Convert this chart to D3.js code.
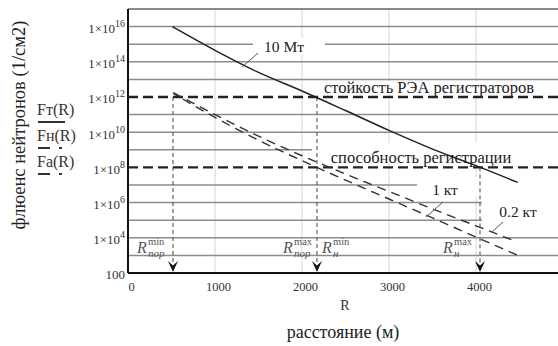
<!DOCTYPE html>
<html><head><meta charset="utf-8">
<script src="https://cdn.jsdelivr.net/npm/d3@7"></script>
<style>
body{margin:0;background:#fff}
svg{display:block}
</style>
</head><body>
<svg id="c" width="558" height="346"></svg>
<script>
// ---------- data ----------
const xTicks = [0, 1000, 2000, 3000, 4000];
const yTickVals = [1e2, 1e4, 1e6, 1e8, 1e10, 1e12, 1e14, 1e16];
const yTickSup = ["", "4", "6", "8", "10", "12", "14", "16"];
const gridDecades = [1e3,1e4,1e5,1e6,1e7,1e9,1e10,1e11,1e13,1e14,1e15,1e16];

const dist10Mt = [510, 1000, 1500, 2000, 2500, 3000, 3500, 4000, 4480];
const flu10Mt  = [1e16, 4.5e14, 2.5e13, 2.2e12, 1.7e11, 1.26e10, 1.1e9, 1.26e8, 1.4e7];

const dist02kt = [520, 1000, 1500, 2000, 2500, 3000, 3500, 4000, 4470];
const flu02kt  = [1.8e12, 1e11, 6e9, 4.6e8, 4.2e7, 4.3e6, 4.4e5, 4.8e4, 5.9e3];

const dist1kt  = [520, 1000, 1500, 2000, 2500, 3000, 3500, 4000, 4470];
const flu1kt   = [1.6e12, 6.9e10, 3.5e9, 2.4e8, 1.9e7, 1.6e6, 1.35e5, 1.1e4, 1.07e3];

const thresholdVals = [1e12, 1e8];
const thresholdNames = ["стойкость РЭА регистраторов", "способность регистрации"];

const markerR    = [517, 2172, 4046];
const markerFrom = [1e12, 1e12, 1e8];

// ---------- scales ----------
const svg = d3.select("#c").attr("font-family", "Liberation Serif");
const x = d3.scaleLinear().domain([0, 5000]).range([128, 563]);
const y = d3.scaleLog().domain([1e2, 1e17]).range([273, 9]);

// vertical gridlines
svg.append("g").selectAll("line").data(xTicks.slice(1)).join("line")
  .attr("x1", d => x(d)).attr("x2", d => x(d))
  .attr("y1", y(1e17)).attr("y2", y(1e2))
  .attr("stroke", "#d6d6d6").attr("stroke-width", 1);

// horizontal gridlines
svg.append("g").selectAll("line").data(gridDecades).join("line")
  .attr("x1", x(0)).attr("x2", 558)
  .attr("y1", d => y(d)).attr("y2", d => y(d))
  .attr("stroke", "#8c8c8c").attr("stroke-width", 1.5);

// top border
svg.append("line").attr("x1", x(0)).attr("x2", 558)
  .attr("y1", y(1e17)).attr("y2", y(1e17))
  .attr("stroke", "#666").attr("stroke-width", 1.5);

// white label boxes (break gridlines like the original)
const boxes = [
  [253, 38, 72, 17],   // 10 Мт
  [320, 81, 222, 14],  // стойкость
  [312, 143, 246, 21], // способность
  [417, 177, 65, 20],  // 1 кт
  [482, 179, 76, 48]   // 0.2 кт
];
svg.append("g").selectAll("rect").data(boxes).join("rect")
  .attr("x", d => d[0]).attr("y", d => d[1])
  .attr("width", d => d[2]).attr("height", d => d[3])
  .attr("fill", "#fff");

// threshold dashed lines
svg.append("g").selectAll("line").data(thresholdVals).join("line")
  .attr("x1", x(0)).attr("x2", 558)
  .attr("y1", d => y(d)).attr("y2", d => y(d))
  .attr("stroke", "#222").attr("stroke-width", 2.4)
  .attr("stroke-dasharray", "10,5");

// vertical marker dashed lines + arrows
const mk = svg.append("g");
markerR.forEach((r, i) => {
  const xx = x(r);
  mk.append("line").attr("x1", xx).attr("x2", xx)
    .attr("y1", y(markerFrom[i])).attr("y2", 264)
    .attr("stroke", "#444").attr("stroke-width", 1)
    .attr("stroke-dasharray", "4,3");
  mk.append("path")
    .attr("d", `M${xx-5},261 L${xx},265.5 L${xx+5},261 L${xx},272 Z`)
    .attr("fill", "#111");
});

// curves
const line = d3.line().x(d => x(d[0])).y(d => y(d[1])).curve(d3.curveMonotoneX);
svg.append("path").datum(d3.zip(dist10Mt, flu10Mt))
  .attr("d", line).attr("fill", "none")
  .attr("stroke", "#222").attr("stroke-width", 1.5);
svg.append("path").datum(d3.zip(dist02kt, flu02kt))
  .attr("d", line).attr("fill", "none")
  .attr("stroke", "#333").attr("stroke-width", 1.4).attr("stroke-dasharray", "9,6");
svg.append("path").datum(d3.zip(dist1kt, flu1kt))
  .attr("d", line).attr("fill", "none")
  .attr("stroke", "#333").attr("stroke-width", 1.4).attr("stroke-dasharray", "9,6")
  .attr("stroke-dashoffset", 4);

// leader lines
const leaders = [[258, 53, 242, 67], [443, 202, 426, 217], [503, 222, 492, 232]];
svg.append("g").selectAll("line").data(leaders).join("line")
  .attr("x1", d => d[0]).attr("y1", d => d[1]).attr("x2", d => d[2]).attr("y2", d => d[3])
  .attr("stroke", "#555").attr("stroke-width", 1);

// axes
const xAxis = svg.append("g").attr("transform", `translate(0,${y(1e2)})`)
  .call(d3.axisBottom(x).tickValues(xTicks).tickSize(0).tickPadding(9).tickFormat(d3.format("d")));
xAxis.select(".domain").remove();
xAxis.selectAll("text").attr("font-size", 12.5).attr("fill", "#333").attr("dx", 3);

const yAxis = svg.append("g").attr("transform", `translate(${x(0)},0)`)
  .call(d3.axisLeft(y).tickValues(yTickVals).tickSize(0).tickPadding(3).tickFormat(() => ""));
yAxis.select(".domain").remove();
yAxis.selectAll("text").each(function(d, i) {
  const t = d3.select(this).attr("font-size", 13).attr("fill", "#333").attr("dy", "0.45em");
  if (yTickSup[i] === "") { t.text("100"); }
  else {
    t.append("tspan").text("1×10");
    t.append("tspan").attr("font-size", 10).attr("dy", -6).text(yTickSup[i]);
  }
});

// axis lines
svg.append("line").attr("x1", x(0)).attr("x2", x(0)).attr("y1", y(1e17)).attr("y2", y(1e2))
  .attr("stroke", "#111").attr("stroke-width", 2);
svg.append("line").attr("x1", x(0)).attr("x2", 558).attr("y1", y(1e2)).attr("y2", y(1e2))
  .attr("stroke", "#111").attr("stroke-width", 2);

// annotation texts
const ann = svg.append("g").attr("fill", "#222");
ann.append("text").attr("x", 284).attr("y", 52).attr("font-size", 15.5).attr("text-anchor", "middle").text("10 Мт");
ann.append("text").attr("x", 429).attr("y", 93).attr("font-size", 16.5).attr("text-anchor", "middle").text(thresholdNames[0]);
ann.append("text").attr("x", 421).attr("y", 163).attr("font-size", 16.5).attr("text-anchor", "middle").text(thresholdNames[1]);
ann.append("text").attr("x", 445).attr("y", 195).attr("font-size", 15.5).attr("text-anchor", "middle").text("1 кт");
ann.append("text").attr("x", 518).attr("y", 217).attr("font-size", 15.5).attr("text-anchor", "middle").text("0.2 кт");

// R labels
const rl = svg.append("g").attr("fill", "#555").attr("font-style", "italic");
const rLabels = [[137, "min", "пор"], [283, "max", "пор"], [322, "min", "н"], [443, "max", "н"]];
rLabels.forEach(([lx, sup, sub]) => {
  rl.append("text").attr("x", lx).attr("y", 253).attr("font-size", 16).text("R");
  rl.append("text").attr("x", lx + 11).attr("y", 245).attr("font-size", 10.5)
    .attr("font-style", "normal").text(sup);
  rl.append("text").attr("x", lx + 11).attr("y", 257).attr("font-size", 11).text(sub);
});

// axis titles
svg.append("text").attr("x", 345).attr("y", 310).attr("text-anchor", "middle")
  .attr("font-size", 14).attr("fill", "#333").text("R");
svg.append("text").attr("x", 343).attr("y", 338).attr("text-anchor", "middle")
  .attr("font-size", 18).attr("fill", "#222").text("расстояние (м)");
svg.append("text").attr("transform", "translate(25,125) rotate(-90)").attr("text-anchor", "middle")
  .attr("font-size", 18.5).attr("fill", "#222").text("флюенс нейтронов (1/см2)");

// legend
const legNames = ["Fт(R)", "Fн(R)", "Fa(R)"];
const legDash = [null, "12,9,3", "12,9,3"];
const lg = svg.append("g").attr("font-size", 16).attr("fill", "#333");
legNames.forEach((n, i) => {
  const by = 115 + i * 26;
  lg.append("text").attr("x", 37).attr("y", by).text(n);
  const ln = lg.append("line").attr("x1", 38).attr("x2", i === 0 ? 65 : 63)
    .attr("y1", by + 7).attr("y2", by + 7).attr("stroke", "#333").attr("stroke-width", 2);
  if (legDash[i]) ln.attr("stroke-dasharray", legDash[i]);
});

// enforce the serif family on every text (axes set sans-serif on their groups)
svg.selectAll("g").attr("font-family", "Liberation Serif");
svg.selectAll("text").attr("font-family", "Liberation Serif");
</script>
</body></html>
